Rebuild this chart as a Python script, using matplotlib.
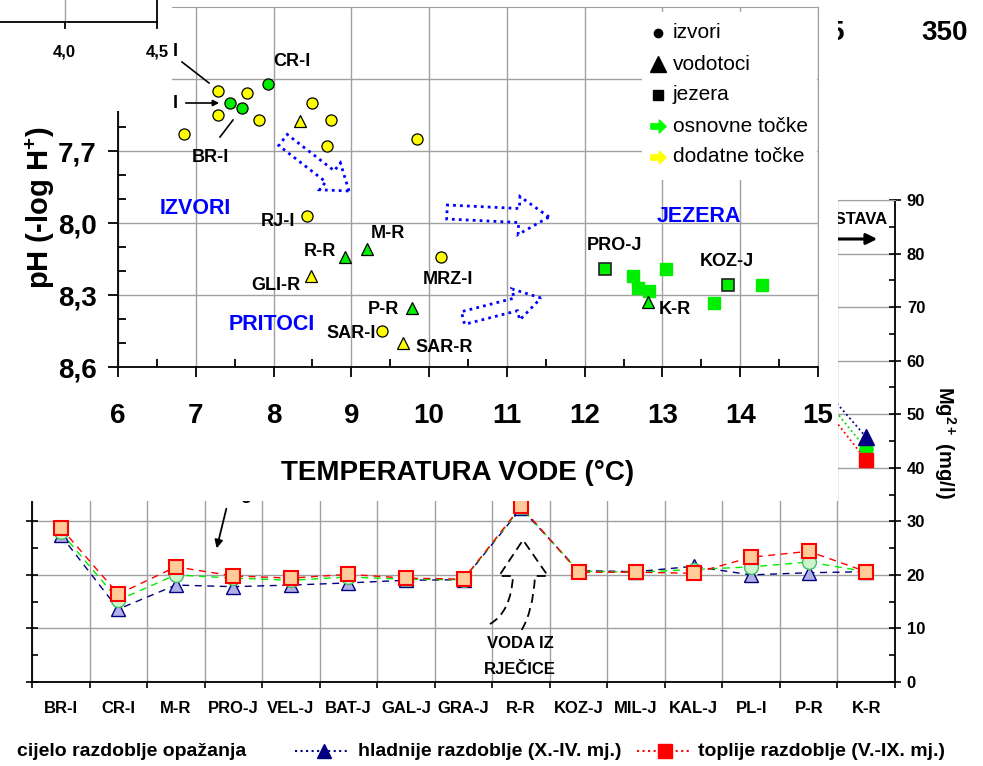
import matplotlib
matplotlib.use('Agg')
import matplotlib.pyplot as plt
from matplotlib.transforms import Affine2D
from matplotlib.patches import Rectangle, FancyArrow, PathPatch, FancyArrowPatch
from matplotlib.path import Path
from matplotlib.lines import Line2D
import numpy as np

plt.rcParams['font.family'] = ['Liberation Sans', 'DejaVu Sans']
plt.rcParams['mathtext.fontset'] = 'custom'
plt.rcParams['mathtext.rm'] = 'Liberation Sans'
plt.rcParams['mathtext.bf'] = 'Liberation Sans:bold'

# ---------------- data: background Mg chart ----------------
sites = ['BR-I', 'CR-I', 'M-R', 'PRO-J', 'VEL-J', 'BAT-J', 'GAL-J', 'GRA-J',
         'R-R', 'KOZ-J', 'MIL-J', 'KAL-J', 'PL-I', 'P-R', 'K-R']
cold_a = [27.4, 13.6, 18.1, 17.8, 18.1, 18.5, 19.0, 19.1, 32.4, 20.8, 20.6, 21.6, 20.0, 20.4, 20.6]
whole_a = [28.0, 15.3, 20.0, 19.4, 19.0, 19.6, 19.2, 19.1, 32.6, 20.7, 20.5, 21.0, 21.5, 22.4, 20.6]
warm_a = [28.8, 16.4, 21.5, 19.8, 19.4, 20.1, 19.4, 19.2, 32.8, 20.5, 20.5, 20.3, 23.3, 24.4, 20.6]
cold_b = [None, None, None, None, None, None, None, None, None, None, None, None, None, 58.1, 45.7]
whole_b = [None, None, None, None, None, None, None, None, None, None, None, None, None, 56.7, 43.5]
warm_b = [None, None, None, None, None, None, None, None, None, None, None, None, None, 55.1, 41.4]
mg_ticks = [0, 10, 20, 30, 40, 50, 60, 70, 80, 90]

# ---------------- data: foreground pH - temperature chart ----------------
izv_add_T = [7.29, 7.29, 7.66, 7.81, 6.85, 8.49, 8.74, 8.69, 9.84, 8.43, 10.15, 9.39]
izv_add_pH = [7.45, 7.55, 7.46, 7.57, 7.63, 7.50, 7.57, 7.68, 7.65, 7.97, 8.14, 8.45]
izv_main_T = [7.44, 7.59, 7.93]
izv_main_pH = [7.50, 7.52, 7.42]
vod_add_T = [8.34, 8.48, 9.66]
vod_add_pH = [7.575, 8.22, 8.50]
vod_main_T = [8.92, 9.20, 9.78, 12.81]
vod_main_pH = [8.14, 8.11, 8.355, 8.33]
jez_T = [12.62, 12.69, 12.83, 13.05, 13.66, 14.28]
jez_pH = [8.22, 8.27, 8.285, 8.19, 8.335, 8.26]
jez_lab_T = [12.26, 13.84]
jez_lab_pH = [8.19, 8.26]
temp_ticks = [6, 7, 8, 9, 10, 11, 12, 13, 14, 15]
ph_ticks = [7.4, 7.7, 8.0, 8.3, 8.6]
ph_ticklabels = ['7,4', '7,7', '8,0', '8,3', '8,6']

W, H = 983, 766
fig = plt.figure(figsize=(W / 100, H / 100), dpi=100)
PX = Affine2D().scale(1 / 100, -1 / 100).translate(0, H / 100) + fig.dpi_scale_trans


def rect(x0, y0, x1, y1):
    return [x0 / W, 1 - y1 / H, (x1 - x0) / W, (y1 - y0) / H]


GRID = '#A0A0A0'
NAVY = '#000080'

# ================= background chart =================
ax = fig.add_axes(rect(32, 200, 895, 682))
ax.set_zorder(1)
x = np.arange(len(sites))
ax.set_xlim(-0.5, len(sites) - 0.5)
ax.set_ylim(0, 90)
ax.set_xticks(x)
ax.set_xticklabels(sites, fontsize=12, fontweight='bold')
ax.tick_params(axis='x', which='major', length=0, pad=14)
ax.set_xticks(np.arange(-0.5, len(sites), 1), minor=True)
ax.tick_params(axis='x', which='minor', direction='out', length=4, width=1.2)
ax.set_yticks(mg_ticks)
ax.set_yticks(np.arange(5, 90, 10), minor=True)
ax.tick_params(axis='y', which='major', direction='inout', length=9, width=1.2,
               left=True, right=True, labelleft=False, labelright=True,
               labelsize=12, pad=4)
ax.tick_params(axis='y', which='minor', direction='in', length=4.5, width=1.2,
               left=True, right=True)
for lab in ax.get_yticklabels():
    lab.set_fontweight('bold')
ax.grid(True, axis='x', which='minor', color=GRID, lw=1)
ax.grid(True, axis='y', which='major', color=GRID, lw=1)
ax.set_axisbelow(True)
for s in ['left', 'right', 'bottom']:
    ax.spines[s].set_linewidth(1.3)
ax.spines['top'].set_color(GRID)

ax.plot(x, cold_a, ls=(0, (5, 4)), color=NAVY, lw=1, marker='^', ms=10,
        mfc='#B0B0E6', mec=NAVY, mew=1)
ax.plot(x, whole_a, ls=(0, (5, 4)), color='#00EE00', lw=1, marker='o', ms=10,
        mfc='#CCF5CC', mec='#44BB66', mew=1)
ax.plot(x, warm_a, ls=(0, (5, 4)), color='#FF0000', lw=1, marker='s', ms=10.5,
        mfc='#FFCC99', mec='#FF0000', mew=1.5)
xb = x.astype(float)
ax.plot(xb, np.array(whole_b, dtype=float), ls=':', color='#00DD00', lw=1.3,
        marker='o', ms=9.5, mfc='#00EE00', mec='#00EE00')
ax.plot(xb, np.array(warm_b, dtype=float), ls=':', color='#FF0000', lw=1.3,
        marker='s', ms=10.5, mfc='#FF0000', mec='#FF0000')
ax.plot(xb, np.array(cold_b, dtype=float), ls=':', color=NAVY, lw=1.3,
        marker='^', ms=11, mfc=NAVY, mec=NAVY)

fig.text(945, 442, r'Mg$^{\mathbf{2+}}$ (mg/l)', transform=PX, rotation=270,
         ha='center', va='center', fontsize=14.5, fontweight='bold')

# background annotations
fig.add_artist(FancyArrowPatch((227, 506), (216, 551), transform=PX,
                               arrowstyle='-|>', mutation_scale=12,
                               color='black', lw=1.3, zorder=1.5))
fig.text(246, 499, 'g', transform=PX, ha='center', va='baseline', fontsize=13,
         fontweight='bold', zorder=1.5)
fig.text(520, 644, 'VODA IZ', transform=PX, ha='center', va='center',
         fontsize=12, fontweight='bold', zorder=1.5)
fig.text(520, 669, 'RJEČICE', transform=PX, ha='center', va='center',
         fontsize=12, fontweight='bold', zorder=1.5)
vpath = Path([(490, 624), (511, 612), (513, 576), (499, 576), (523, 540),
              (548, 576), (535, 576), (533, 612), (521, 631)],
             [Path.MOVETO, Path.CURVE3, Path.CURVE3, Path.LINETO, Path.LINETO,
              Path.LINETO, Path.LINETO, Path.CURVE3, Path.CURVE3])
fig.add_artist(PathPatch(vpath, transform=PX, fill=False, ec='black', lw=1.3,
                         ls=(0, (5, 3)), zorder=1.5))
fig.text(888, 220, 'ISTAVA', transform=PX, ha='right', va='center',
         fontsize=12, fontweight='bold', zorder=1.5)
fig.add_artist(FancyArrowPatch((820, 239), (880, 239), transform=PX,
                               arrowstyle='-|>', mutation_scale=16,
                               color='black', lw=2.2, zorder=1.5))
fig.text(836, 33, '5', transform=PX, ha='center', va='center', fontsize=20,
         fontweight='bold', zorder=1.5)
fig.text(945, 33, '350', transform=PX, ha='center', va='center', fontsize=20,
         fontweight='bold', zorder=1.5)

# bottom legend
fig.text(17, 751, 'cijelo razdoblje opažanja', transform=PX, ha='left',
         va='center', fontsize=14, fontweight='bold')
fig.add_artist(Line2D([295, 348], [751, 751], transform=PX, ls=':', color=NAVY, lw=1.5))
fig.add_artist(Line2D([324], [751], transform=PX, ls='none', marker='^', ms=10,
                      mfc=NAVY, mec=NAVY))
fig.text(358, 751, 'hladnije razdoblje (X.-IV. mj.)', transform=PX, ha='left',
         va='center', fontsize=14, fontweight='bold')
fig.add_artist(Line2D([637, 690], [751, 751], transform=PX, ls=':', color='#FF0000', lw=1.5))
fig.add_artist(Line2D([665], [751], transform=PX, ls='none', marker='s', ms=9.5,
                      mfc='#FF0000', mec='#FF0000'))
fig.text(698, 751, 'toplije razdoblje (V.-IX. mj.)', transform=PX, ha='left',
         va='center', fontsize=14, fontweight='bold')

# ================= white box of the foreground chart =================
fig.add_artist(Rectangle((0, 0), 838, 501, transform=PX, fc='white', ec='none', zorder=2))

# ================= foreground chart =================
af = fig.add_axes(rect(118, 7, 818, 367))
af.set_zorder(3)
af.patch.set_alpha(0)
af.set_xlim(6, 15)
af.set_ylim(8.6, 7.1)
af.set_xticks(temp_ticks)
af.set_xticklabels([str(t) for t in temp_ticks], fontsize=20, fontweight='bold')
af.set_xticks(np.arange(6.5, 15, 1), minor=True)
af.set_yticks(ph_ticks)
af.set_yticklabels(ph_ticklabels, fontsize=20, fontweight='bold')
af.set_yticks([7.5, 7.6, 7.8, 7.9, 8.1, 8.2, 8.4, 8.5], minor=True)
af.tick_params(axis='both', which='major', direction='out', length=7.2, width=1.3)
af.tick_params(axis='x', which='major', pad=19)
af.tick_params(axis='y', which='major', pad=8)
af.tick_params(axis='both', which='minor', direction='in', length=5.5, width=1.3)
af.grid(True, which='major', color=GRID, lw=1)
af.set_axisbelow(True)
af.spines['left'].set_linewidth(1.3)
af.spines['bottom'].set_linewidth(1.3)
af.spines['top'].set_color(GRID)
af.spines['right'].set_color(GRID)

af.plot(jez_T, jez_pH, ls='none', marker='s', ms=8.5, mfc='#00EE00', mec='#00EE00')
af.plot(jez_lab_T, jez_lab_pH, ls='none', marker='s', ms=8, mfc='#00EE00', mec='#222222', mew=1.2)
af.plot(izv_add_T, izv_add_pH, ls='none', marker='o', ms=8, mfc='#FFFF00', mec='black', mew=0.9)
af.plot(izv_main_T, izv_main_pH, ls='none', marker='o', ms=8, mfc='#00EE00', mec='black', mew=0.9)
af.plot(vod_add_T, vod_add_pH, ls='none', marker='^', ms=9, mfc='#FFFF00', mec='black', mew=0.9)
af.plot(vod_main_T, vod_main_pH, ls='none', marker='^', ms=9, mfc='#00EE00', mec='black', mew=0.9)

fig.text(458, 473, 'TEMPERATURA VODE (°C)', transform=PX, ha='center', va='center',
         fontsize=20, fontweight='bold', zorder=3.7)
fig.text(40, 208, r'pH (-log H$^{\mathbf{+}}$)', transform=PX, rotation=90,
         ha='center', va='center', fontsize=21, fontweight='bold', zorder=3.7)

labels = [('CR-I', 292, 62), ('BR-I', 210, 157), ('I', 175, 52), ('I', 175, 103),
          ('RJ-I', 278, 222), ('R-R', 320, 252), ('M-R', 388, 234), ('GLI-R', 276, 285),
          ('MRZ-I', 448, 279), ('P-R', 383, 310), ('SAR-I', 351, 333), ('SAR-R', 444, 347),
          ('PRO-J', 615, 246), ('KOZ-J', 727, 262), ('K-R', 675, 310)]
for t, lx, ly in labels:
    fig.text(lx, ly, t, transform=PX, ha='center', va='center', fontsize=13,
             fontweight='bold', zorder=3.7)
for t, lx, ly in [('IZVORI', 195, 208), ('PRITOCI', 272, 325), ('JEZERA', 699, 217)]:
    fig.text(lx, ly, t, transform=PX, ha='center', va='center', fontsize=15.5,
             fontweight='bold', color='#0000FF', zorder=3.7)

fig.add_artist(Line2D([182, 209], [62, 83], transform=PX, color='black', lw=1.2, zorder=3.7))
fig.add_artist(FancyArrowPatch((183, 103), (222, 103), transform=PX, arrowstyle='-|>',
                               mutation_scale=9, color='black', lw=1.2, zorder=3.7))
fig.add_artist(Line2D([220, 233], [137, 120], transform=PX, color='black', lw=1.2, zorder=3.7))

for (x0, y0, x1, y1, w, hw, hl) in [(283, 140, 349, 191, 14, 34, 24),
                                     (447, 212, 549, 217, 14, 38, 30),
                                     (463, 318, 541, 298, 13, 32, 26)]:
    fig.add_artist(FancyArrow(x0, y0, x1 - x0, y1 - y0, width=w, head_width=hw,
                              head_length=hl, length_includes_head=True,
                              transform=PX, fill=False, ec='#0000FF', lw=2,
                              ls=(0, (1, 1.5)), zorder=3.7))

# legend of foreground
fig.add_artist(Rectangle((642, 12), 175, 168, transform=PX, fc='white', ec='none', zorder=3.5))
arrow_marker = Path([(-1, -0.35), (0.1, -0.35), (0.1, -0.85), (1, 0), (0.1, 0.85),
                     (0.1, 0.35), (-1, 0.35), (-1, -0.35)],
                    [1, 2, 2, 2, 2, 2, 2, 79])
leg = [('izvori', 'o', 6, 'black', 33), ('vodotoci', '^', 11, 'black', 64),
       ('jezera', 's', 7.5, 'black', 95), ('osnovne točke', arrow_marker, 11, '#00FF00', 126),
       ('dodatne točke', arrow_marker, 11, '#FFFF00', 157)]
for t, m, ms, c, ly in leg:
    fig.add_artist(Line2D([658], [ly], transform=PX, ls='none', marker=m, ms=ms,
                          mfc=c, mec=c, zorder=3.6))
    fig.text(673, ly, t, transform=PX, ha='left', va='center', fontsize=15, zorder=3.6)

# ================= top-left piece of another chart =================
fig.add_artist(Rectangle((0, 0), 172, 111, transform=PX, fc='white', ec='none', zorder=4))
fig.add_artist(Line2D([0, 157], [22, 22], transform=PX, color='black', lw=1.3, zorder=5))
fig.add_artist(Line2D([65, 65], [0, 22], transform=PX, color=GRID, lw=1, zorder=5))
fig.add_artist(Line2D([65, 65], [22, 28], transform=PX, color='black', lw=1.3, zorder=5))
fig.add_artist(Line2D([157, 157], [0, 28], transform=PX, color='black', lw=1.3, zorder=5))
fig.text(64, 52, '4,0', transform=PX, ha='center', va='center', fontsize=12,
         fontweight='bold', zorder=5)
fig.text(157, 52, '4,5', transform=PX, ha='center', va='center', fontsize=12,
         fontweight='bold', zorder=5)

fig.savefig('out.png', dpi=100)
